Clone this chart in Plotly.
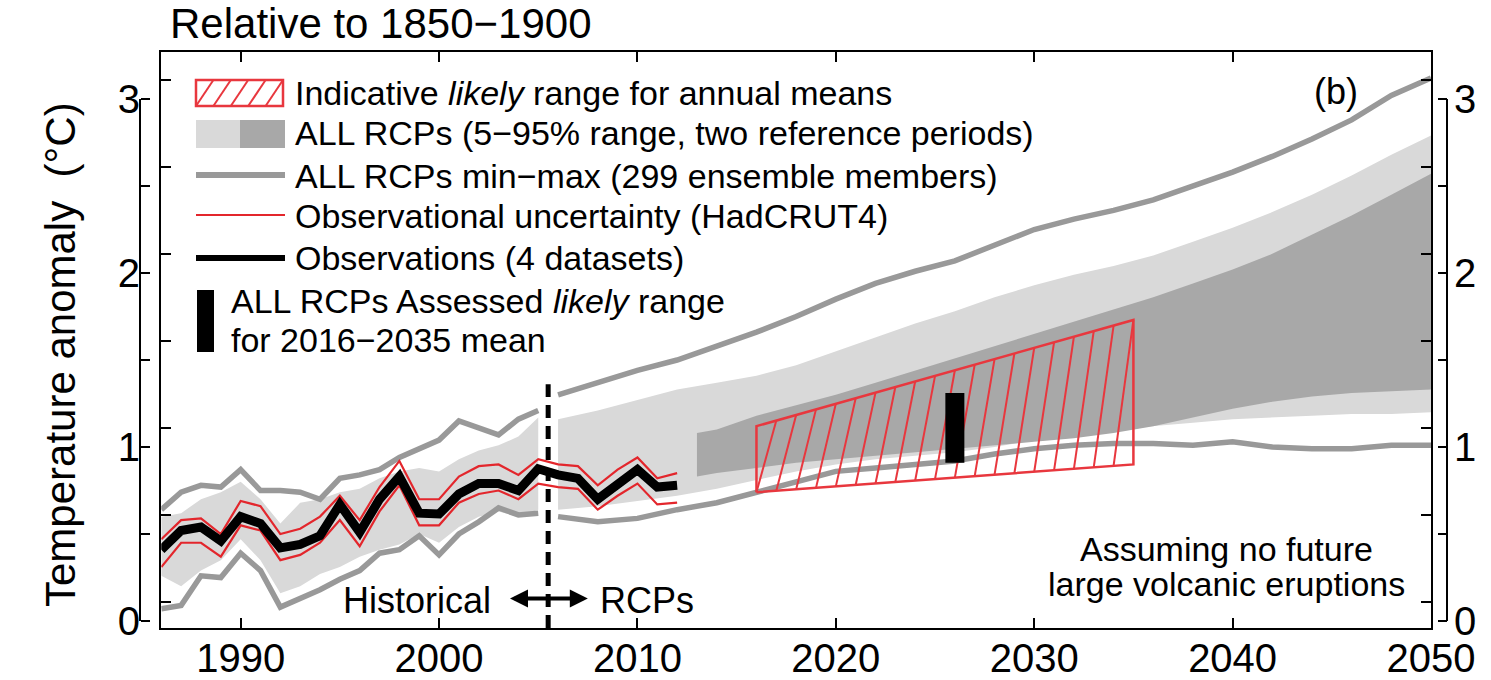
import plotly.graph_objects as go

# ---------------- data ----------------
OBS_YEARS = list(range(1986, 2013))
OBS_MEAN = [0.41, 0.52, 0.54, 0.46, 0.60, 0.56, 0.42, 0.44, 0.49, 0.67, 0.51, 0.70, 0.83, 0.62,
            0.615, 0.73, 0.79, 0.79, 0.75, 0.875, 0.84, 0.82, 0.70, 0.79, 0.87, 0.77, 0.78]
HADCRUT_UPPER = [0.47, 0.58, 0.59, 0.50, 0.69, 0.66, 0.50, 0.53, 0.60, 0.72, 0.58, 0.77, 0.92, 0.70,
                 0.70, 0.83, 0.89, 0.90, 0.84, 0.93, 0.90, 0.89, 0.78, 0.87, 0.94, 0.82, 0.85]
HADCRUT_LOWER = [0.31, 0.45, 0.45, 0.37, 0.55, 0.52, 0.35, 0.38, 0.45, 0.58, 0.43, 0.63, 0.78, 0.55,
                 0.55, 0.68, 0.73, 0.75, 0.70, 0.79, 0.77, 0.76, 0.64, 0.72, 0.79, 0.67, 0.68]

HIST_YEARS = list(range(1986, 2006))
HIST_MAX = [0.64, 0.74, 0.78, 0.77, 0.87, 0.75, 0.75, 0.74, 0.70, 0.82,
            0.84, 0.87, 0.94, 0.99, 1.04, 1.15, 1.11, 1.07, 1.16, 1.21]
HIST_MIN = [0.07, 0.09, 0.26, 0.25, 0.39, 0.29, 0.08, 0.13, 0.18, 0.24,
            0.29, 0.39, 0.41, 0.49, 0.38, 0.50, 0.57, 0.65, 0.61, 0.62]
HIST_P95 = [0.60, 0.62, 0.70, 0.74, 0.80, 0.70, 0.56, 0.68, 0.70, 0.74,
            0.76, 0.82, 0.86, 0.88, 0.86, 0.93, 0.98, 1.01, 1.06, 1.17]
HIST_P05 = [0.26, 0.20, 0.29, 0.35, 0.47, 0.35, 0.16, 0.20, 0.27, 0.31,
            0.37, 0.41, 0.44, 0.50, 0.45, 0.54, 0.60, 0.63, 0.60, 0.64]

RCP_YEARS = list(range(2006, 2051, 2))
RCP_MAX = [1.30, 1.37, 1.44, 1.50, 1.58, 1.66, 1.75, 1.85, 1.94, 2.01, 2.07, 2.16,
           2.25, 2.31, 2.36, 2.42, 2.50, 2.58, 2.67, 2.77, 2.88, 3.02, 3.12]
RCP_MIN = [0.60, 0.57, 0.59, 0.64, 0.68, 0.74, 0.80, 0.86, 0.88, 0.90, 0.92, 0.96,
           0.99, 1.01, 1.02, 1.02, 1.01, 1.03, 1.00, 0.99, 0.99, 1.01, 1.01]
RCP_P95 = [1.16, 1.21, 1.27, 1.33, 1.37, 1.41, 1.47, 1.55, 1.63, 1.71, 1.78, 1.86,
           1.93, 1.99, 2.04, 2.10, 2.18, 2.26, 2.35, 2.45, 2.56, 2.68, 2.79]
RCP_P05 = [0.64, 0.66, 0.69, 0.72, 0.76, 0.81, 0.86, 0.90, 0.93, 0.95, 0.97, 1.00,
           1.04, 1.07, 1.10, 1.12, 1.14, 1.16, 1.17, 1.18, 1.19, 1.19, 1.20]

DARK_YEARS = [2013] + list(range(2014, 2051, 2))
DARK_P95 = [1.08, 1.10, 1.18, 1.24, 1.30, 1.37, 1.44, 1.51, 1.58, 1.65,
            1.72, 1.79, 1.86, 1.94, 2.02, 2.11, 2.22, 2.33, 2.45, 2.57]
DARK_P05 = [0.83, 0.85, 0.88, 0.91, 0.93, 0.95, 0.97, 0.99, 1.01, 1.03,
            1.05, 1.08, 1.12, 1.17, 1.22, 1.26, 1.29, 1.31, 1.32, 1.33]

LIKELY_YEARS = [2016, 2035]
LIKELY_LOW = [0.74, 0.90]
LIKELY_HIGH = [1.12, 1.73]

ASSESSED_YEAR = 2026
ASSESSED_LOW = 0.91
ASSESSED_HIGH = 1.31

DIVIDER_YEAR = 2005.5
DIVIDER_TOP = 1.36

X_TICKS = [1990, 2000, 2010, 2020, 2030, 2040, 2050]
OUTER_Y_TICKS = [0, 0.5, 1, 1.5, 2, 2.5, 3]
OUTER_Y_LABELS = ["0", "", "1", "", "2", "", "3"]
INNER_Y_TICKS = [0.11, 0.61, 1.11, 1.61, 2.11, 2.61, 3.11]

LEGEND_TEXTS = [
    "Indicative <i>likely</i> range for annual means",
    "ALL RCPs (5\u221295% range, two reference periods)",
    "ALL RCPs min\u2212max (299 ensemble members)",
    "Observational uncertainty (HadCRUT4)",
    "Observations (4 datasets)",
]
ASSESSED_TEXT = ["ALL RCPs Assessed <i>likely</i> range", "for 2016\u22122035 mean"]

# ---------------- styling / layout helpers ----------------
FONT = "Liberation Sans, Arial, Helvetica, sans-serif"
LIGHT = "#d9d9d9"
DARK = "#a8a8a8"
MINMAX = "#999999"
RED = "#e3262c"
HATCH = "#e8373e"

FIG_W, FIG_H = 1491, 680
L, R, T, B = 140, 44, 52, 52
PW = FIG_W - L - R
PH = FIG_H - T - B
Y_RANGE = [-0.04, 3.27]


def px(x):
    return (x - L) / PW


def py(y):
    return (FIG_H - B - y) / PH


fig = go.Figure()


def band(xs, hi, lo, color):
    fig.add_trace(go.Scatter(x=xs + xs[::-1], y=hi + lo[::-1], fill="toself",
                             fillcolor=color, line=dict(width=0), mode="lines",
                             hoverinfo="skip", showlegend=False))


band(HIST_YEARS, HIST_P95, HIST_P05, LIGHT)
band(RCP_YEARS, RCP_P95, RCP_P05, LIGHT)
band(DARK_YEARS, DARK_P95, DARK_P05, DARK)

for xs, ys in [(HIST_YEARS, HIST_MAX), (HIST_YEARS, HIST_MIN),
               (RCP_YEARS, RCP_MAX), (RCP_YEARS, RCP_MIN)]:
    fig.add_trace(go.Scatter(x=xs, y=ys, mode="lines",
                             line=dict(color=MINMAX, width=5.5),
                             hoverinfo="skip", showlegend=False))

# hatched indicative likely range
y0, y1 = LIKELY_YEARS
span = y1 - y0
hx, hy = [], []
for k in range(int(span)):
    xa, xb = y0 + k, y0 + k + 1
    ta, tb = (xa - y0) / span, (xb - y0) / span
    hx += [xa, xb, None]
    hy += [LIKELY_LOW[0] + (LIKELY_LOW[1] - LIKELY_LOW[0]) * ta,
           LIKELY_HIGH[0] + (LIKELY_HIGH[1] - LIKELY_HIGH[0]) * tb, None]
fig.add_trace(go.Scatter(x=hx, y=hy, mode="lines", line=dict(color=HATCH, width=2),
                         hoverinfo="skip", showlegend=False))
fig.add_trace(go.Scatter(x=[y0, y1, y1, y0, y0],
                         y=[LIKELY_LOW[0], LIKELY_LOW[1], LIKELY_HIGH[1], LIKELY_HIGH[0], LIKELY_LOW[0]],
                         mode="lines", line=dict(color=HATCH, width=2.5),
                         hoverinfo="skip", showlegend=False))

# observational uncertainty + observations
for ys in (HADCRUT_UPPER, HADCRUT_LOWER):
    fig.add_trace(go.Scatter(x=OBS_YEARS, y=ys, mode="lines", line=dict(color=RED, width=2.2),
                             hoverinfo="skip", showlegend=False))
fig.add_trace(go.Scatter(x=OBS_YEARS, y=OBS_MEAN, mode="lines", line=dict(color="black", width=9),
                         hoverinfo="skip", showlegend=False))

# assessed likely range (thick vertical bar, drawn above the bands)
fig.add_trace(go.Scatter(x=[ASSESSED_YEAR, ASSESSED_YEAR], y=[ASSESSED_LOW, ASSESSED_HIGH],
                         mode="lines", line=dict(color="black", width=19),
                         hoverinfo="skip", showlegend=False))

# dummy traces to activate the outer axes
fig.add_trace(go.Scatter(x=[2050], y=[0], yaxis="y2", mode="markers", marker=dict(opacity=0),
                         hoverinfo="skip", showlegend=False))
fig.add_trace(go.Scatter(x=[2050], y=[0], yaxis="y3", mode="markers", marker=dict(opacity=0),
                         hoverinfo="skip", showlegend=False))

shapes = []
# divider dashed line
shapes.append(dict(type="line", xref="x", yref="y", x0=DIVIDER_YEAR, x1=DIVIDER_YEAR,
                   y0=Y_RANGE[0], y1=DIVIDER_TOP, layer="above",
                   line=dict(color="black", width=5, dash="13px,8px")))
# outer bracket lines
for xp in (0, 1):
    shapes.append(dict(type="line", xref="paper", yref="y", x0=xp, x1=xp,
                       y0=OUTER_Y_TICKS[0], y1=OUTER_Y_TICKS[-1],
                       line=dict(color="black", width=2)))

# legend symbols (pixel positions converted to paper)
shapes.append(dict(type="rect", xref="paper", yref="paper", x0=px(196), x1=px(283),
                   y0=py(106), y1=py(80), line=dict(color=HATCH, width=2.5)))
for i in range(5):
    bx = 196 + i * 17.4
    shapes.append(dict(type="line", xref="paper", yref="paper", x0=px(bx), x1=px(bx + 17.4),
                       y0=py(106), y1=py(80), line=dict(color=HATCH, width=2)))
shapes.append(dict(type="rect", xref="paper", yref="paper", x0=px(196), x1=px(240),
                   y0=py(148), y1=py(120), fillcolor=LIGHT, line=dict(width=0)))
shapes.append(dict(type="rect", xref="paper", yref="paper", x0=px(240), x1=px(285),
                   y0=py(148), y1=py(120), fillcolor=DARK, line=dict(width=0)))
for yy, col, w in [(175, MINMAX, 6), (215, RED, 2.2), (258, "black", 6)]:
    shapes.append(dict(type="line", xref="paper", yref="paper", x0=px(196), x1=px(285),
                       y0=py(yy), y1=py(yy), line=dict(color=col, width=w)))
shapes.append(dict(type="rect", xref="paper", yref="paper", x0=px(197), x1=px(214),
                   y0=py(352), y1=py(290), fillcolor="black", line=dict(width=0)))

annotations = []


def txt(text, x, y, size, xanchor="left", yanchor="middle", **kw):
    annotations.append(dict(text=text, xref="paper", yref="paper", x=px(x), y=py(y),
                            xanchor=xanchor, yanchor=yanchor, showarrow=False,
                            font=dict(family=FONT, size=size, color="black"), **kw))


txt("Relative to 1850\u22121900", 168, 24, 42)
txt("Temperature anomaly  (\u00b0C)", 60, 355, 42, xanchor="center", textangle=-90)
for t, yy in zip(LEGEND_TEXTS, [93, 133, 176, 216, 258]):
    txt(t, 293, yy, 34)
txt(ASSESSED_TEXT[0], 229, 301, 34)
txt(ASSESSED_TEXT[1], 229, 340, 34)
txt("(b)", 1336, 92, 36, xanchor="center")
txt("Assuming no future", 1226, 549, 34, xanchor="center")
txt("large volcanic eruptions", 1226, 584, 34, xanchor="center")
txt("Historical", 493, 600, 36, xanchor="right")
txt("RCPs", 598, 600, 36, xanchor="left")

annotations.append(dict(x=2007.5, y=0.13, ax=2003.5, ay=0.13, xref="x", yref="y",
                        axref="x", ayref="y", text="", showarrow=True,
                        arrowside="end+start", arrowhead=2, arrowsize=0.9,
                        arrowwidth=4, arrowcolor="black"))

fig.update_layout(
    width=FIG_W, height=FIG_H,
    margin=dict(l=L, r=R, t=T, b=B, autoexpand=False),
    paper_bgcolor="white", plot_bgcolor="white",
    font=dict(family=FONT, color="black"),
    showlegend=False,
    xaxis=dict(domain=[px(161.3), px(1431)], range=[1986, 2050], tickvals=X_TICKS,
               ticks="inside", ticklen=10, tickwidth=1.5, tickcolor="black",
               showline=True, linecolor="black", linewidth=2, mirror="ticks",
               showgrid=False, zeroline=False, tickfont=dict(size=40, family=FONT),
               ticklabelstandoff=-6),
    yaxis=dict(range=Y_RANGE, tickvals=INNER_Y_TICKS, ticks="inside", ticklen=10,
               tickwidth=1.5, tickcolor="black", showticklabels=False,
               showline=True, linecolor="black", linewidth=2, mirror="ticks",
               showgrid=False, zeroline=False),
    yaxis2=dict(range=Y_RANGE, overlaying="y", anchor="free", position=0, side="left",
                tickvals=OUTER_Y_TICKS, ticktext=OUTER_Y_LABELS, ticks="inside", ticklen=9,
                tickwidth=2, tickcolor="black", showline=False, showgrid=False, zeroline=False,
                tickfont=dict(size=40, family=FONT)),
    yaxis3=dict(range=Y_RANGE, overlaying="y", anchor="free", position=1, side="right",
                tickvals=OUTER_Y_TICKS, ticktext=OUTER_Y_LABELS, ticks="inside", ticklen=9,
                tickwidth=2, tickcolor="black", showline=False, showgrid=False, zeroline=False,
                tickfont=dict(size=40, family=FONT), ticklabelstandoff=6),
    shapes=shapes,
    annotations=annotations,
)

fig.write_html("out.html", config={"displayModeBar": False},
               post_script="document.body.style.margin='0px';document.body.style.overflow='hidden';")
